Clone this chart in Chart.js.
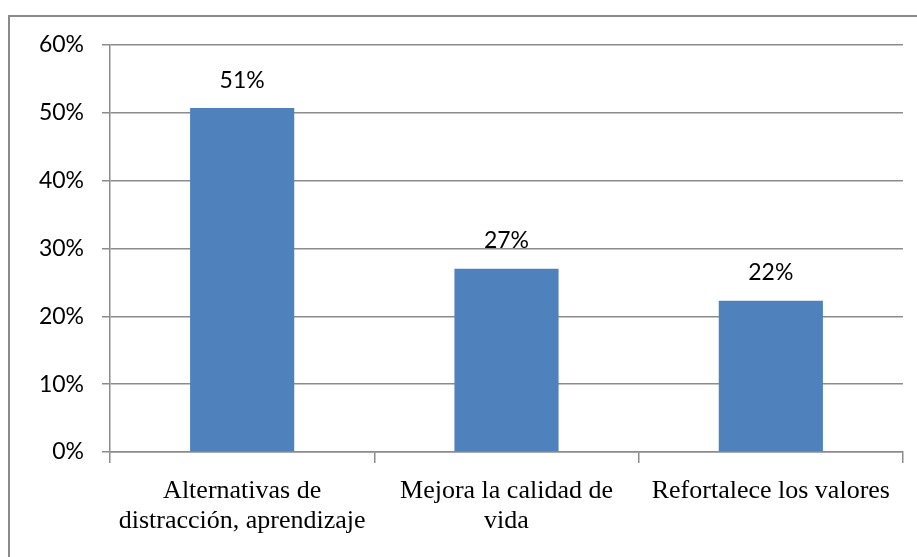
<!DOCTYPE html>
<html>
<head>
<meta charset="utf-8">
<script src="https://cdn.jsdelivr.net/npm/chart.js@4"></script>
<style>
    html, body { margin: 0; padding: 0; background: #fff; overflow: hidden; }
    #frame {
        position: absolute; left: 8px; top: 15px;
        width: 930px; height: 570px;
        border: 2px solid #8a8a8a;
    }
    #wrap { position: absolute; left: 0; top: 0; width: 917px; height: 557px; }
</style>
</head>
<body>
<div id="frame"></div>
<div id="wrap"><canvas id="chart" width="917" height="557"></canvas></div>
<script>
// chart data
const categories = [
    ['Alternativas de', 'distracción, aprendizaje'],
    ['Mejora la calidad de', 'vida'],
    ['Refortalece los valores']
];
const values = [50.7, 27, 22.3];
const valueLabels = ['51%', '27%', '22%'];
const yTicks = [0, 10, 20, 30, 40, 50, 60];

const gridColor = '#8c8c8c';

// draws the value above each bar
const barLabels = {
    id: 'barLabels',
    afterDatasetsDraw(chart) {
        const ctx = chart.ctx;
        const meta = chart.getDatasetMeta(0);
        ctx.save();
        ctx.font = '23px Lato';
        ctx.fillStyle = '#000';
        ctx.textAlign = 'center';
        ctx.textBaseline = 'middle';
        meta.data.forEach((bar, i) => {
            ctx.fillText(valueLabels[i], bar.x, bar.y - 28);
        });
        ctx.restore();
    }
};

new Chart(document.getElementById('chart'), {
    type: 'bar',
    data: {
        labels: categories,
        datasets: [{
            data: values,
            backgroundColor: '#4F81BD',
            borderWidth: 0,
            categoryPercentage: 1,
            barPercentage: 0.394
        }]
    },
    options: {
        responsive: false,
        animation: false,
        layout: { padding: { top: 45, right: 14, left: 0, bottom: 0 } },
        plugins: {
            legend: { display: false },
            tooltip: { enabled: false }
        },
        scales: {
            x: {
                grid: {
                    offset: true,
                    drawOnChartArea: false,
                    tickLength: 11,
                    color: gridColor,
                    lineWidth: 1.5
                },
                border: { color: gridColor, width: 1.5 },
                ticks: {
                    maxRotation: 0,
                    autoSkip: false,
                    padding: 14,
                    color: '#000',
                    font: { family: 'Liberation Serif', size: 26, lineHeight: 1.12 }
                },
                afterFit(scale) { scale.height = 105; }
            },
            y: {
                min: 0,
                max: 60,
                afterBuildTicks(scale) {
                    scale.ticks = yTicks.map(v => ({ value: v }));
                },
                grid: {
                    tickLength: 8,
                    color: gridColor,
                    lineWidth: 1.5
                },
                border: { color: gridColor, width: 1.5 },
                ticks: {
                    padding: 18,
                    color: '#000',
                    font: { family: 'Lato', size: 23 },
                    callback: v => v + '%'
                },
                afterFit(scale) { scale.width = 110; }
            }
        }
    },
    plugins: [barLabels]
});
</script>
</body>
</html>
